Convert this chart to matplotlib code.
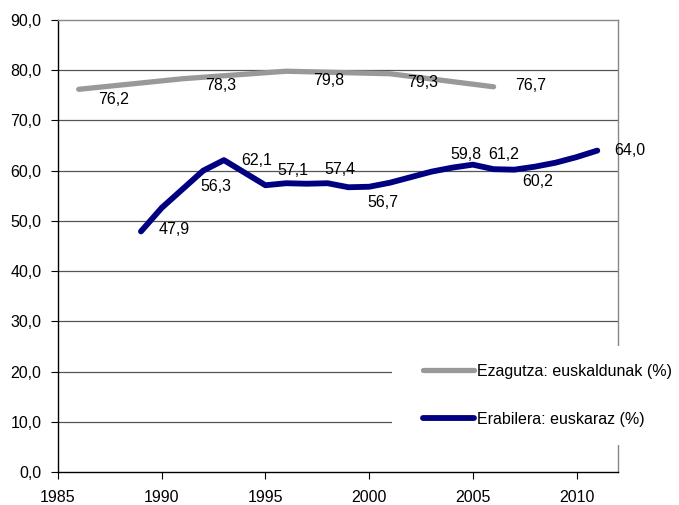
import matplotlib
matplotlib.use('Agg')
import matplotlib.pyplot as plt
from matplotlib.patches import Rectangle

plt.rcParams['font.family'] = ['Liberation Sans', 'DejaVu Sans']

# Ezagutza (census years)
know_years = [1986, 1991, 1996, 2001, 2006]
know_vals = [76.2, 78.3, 79.8, 79.3, 76.7]

# Erabilera (yearly)
use_years = [1989, 1990, 1991, 1992, 1993, 1994, 1995, 1996, 1997, 1998, 1999,
             2000, 2001, 2002, 2003, 2004, 2005, 2006, 2007, 2008, 2009, 2010, 2011]
use_vals = [47.9, 52.6, 56.3, 60.0, 62.1, 59.6, 57.1, 57.5, 57.4, 57.5, 56.7,
            56.8, 57.6, 58.7, 59.8, 60.6, 61.2, 60.3, 60.2, 60.8, 61.6, 62.7, 64.0]
use_labelled = [1989, 1991, 1993, 1995, 1997, 1999, 2003, 2005, 2007, 2011]

know_name = 'Ezagutza: euskaldunak (%)'
use_name = 'Erabilera: euskaraz (%)'

# label offsets in pixels (dx, dy) from the point
know_off = [(35, -10), (38, -7), (43, -9), (33, -9), (37, 1)]
use_off = [(33, 2), (33, 3), (33, 0), (27, 15), (33, 14), (34, -15),
           (35, 17), (31, 10), (23, -12), (33, 0)]

GREY = '#999999'
NAVY = '#000080'
FS = 11.5

fig = plt.figure(figsize=(6.79, 5.05), dpi=100)
ax = fig.add_axes([0.0854, 0.0653, 0.8248, 0.8951])

l1, = ax.plot(know_years, know_vals, color=GREY, lw=3.8,
              solid_capstyle='round', solid_joinstyle='round', zorder=3,
              label=know_name)
l2, = ax.plot(use_years, use_vals, color=NAVY, lw=4.2,
              solid_capstyle='round', solid_joinstyle='round', zorder=3,
              label=use_name)

def fmt(v):
    return ('%.1f' % v).replace('.', ',')

for (x, y), (dx, dy) in zip(zip(know_years, know_vals), know_off):
    ax.annotate(fmt(y), (x, y), xytext=(dx, dy), textcoords='offset pixels',
                ha='center', va='center', fontsize=FS, zorder=6)
for yr, (dx, dy) in zip(use_labelled, use_off):
    v = use_vals[use_years.index(yr)]
    ax.annotate(fmt(v), (yr, v), xytext=(dx, dy), textcoords='offset pixels',
                ha='center', va='center', fontsize=FS, zorder=6)

ax.set_xlim(1985, 2012)
ax.set_ylim(0, 90)
ax.set_xticks(range(1985, 2011, 5))
ax.set_yticks(range(0, 91, 10))
ax.set_yticklabels([fmt(v) for v in range(0, 91, 10)])
ax.tick_params(labelsize=FS, length=5, width=0.8, color='black')
ax.tick_params(axis='y', pad=7)
ax.tick_params(axis='x', pad=8)

for v in range(10, 90, 10):
    ax.axhline(v, color='#555555', lw=0.9, zorder=1)

ax.spines['left'].set_color('black')
ax.spines['bottom'].set_color('black')
ax.spines['top'].set_color('#888888')
ax.spines['right'].set_color('#888888')
for s in ax.spines.values():
    s.set_linewidth(1.0)

# white box behind the legend
ax.add_patch(Rectangle((0.596, 0.06), 0.5, 0.218, transform=ax.transAxes,
                       facecolor='white', edgecolor='none', zorder=4,
                       clip_on=False))
leg = ax.legend(handles=[l1, l2], loc='center left',
                bbox_to_anchor=(0.652, 0.17), frameon=False, fontsize=FS,
                handlelength=3.2, handletextpad=0.15, labelspacing=2.05,
                borderaxespad=0, borderpad=0)
leg.set_zorder(5)

fig.savefig('out.png', dpi=100)
